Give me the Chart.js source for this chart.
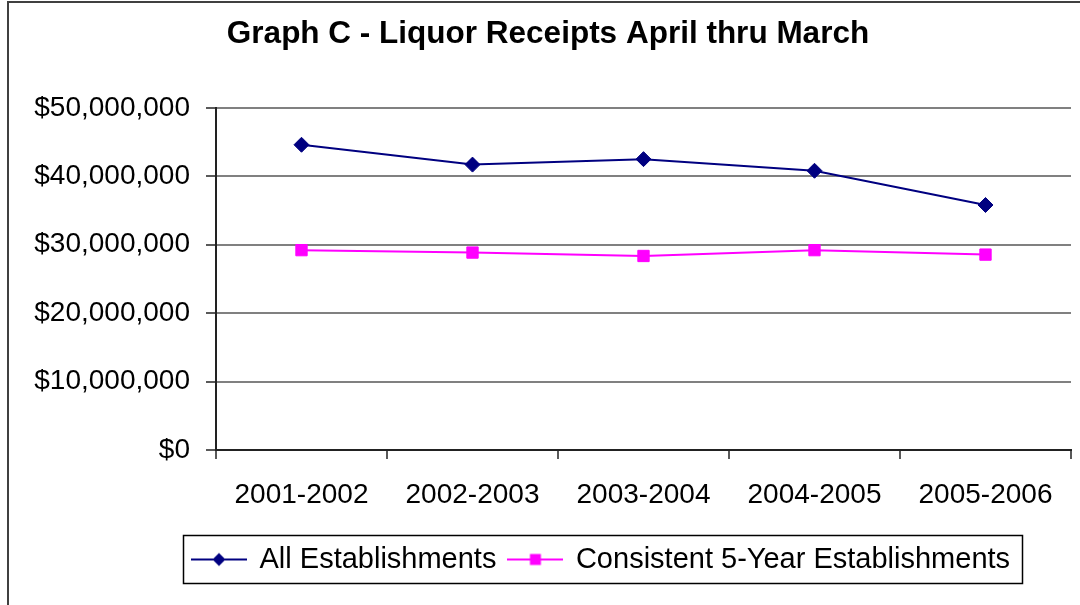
<!DOCTYPE html>
<html>
<head>
<meta charset="utf-8">
<title>Graph C - Liquor Receipts April thru March</title>
<script src="https://cdn.jsdelivr.net/npm/chart.js@4"></script>
<style>
  html, body { margin: 0; padding: 0; background: #fff; }
  #wrap { width: 1080px; height: 605px; }
</style>
</head>
<body>
<div id="wrap"><canvas id="myChart" width="1080" height="605"></canvas></div>
<script>
// data
const years = ['2001-2002', '2002-2003', '2003-2004', '2004-2005', '2005-2006'];
const allEstablishments = [44600000, 41700000, 42500000, 40800000, 35800000];
const consistentEstablishments = [29200000, 28850000, 28350000, 29200000, 28550000];
const seriesNames = ['All Establishments', 'Consistent 5-Year Establishments'];
const yTicks = [0, 10000000, 20000000, 30000000, 40000000, 50000000];

const navy = '#000080';
const pink = '#FF00FF';
const fontName = '"Liberation Sans", Arial, sans-serif';

// little line+marker picture for the legend, like excel does it
function legendIcon(color, shape) {
  const c = document.createElement('canvas');
  c.width = 56;
  c.height = 20;
  const g = c.getContext('2d');
  g.strokeStyle = color;
  g.lineWidth = 2;
  g.beginPath();
  g.moveTo(0, 10);
  g.lineTo(56, 10);
  g.stroke();
  g.fillStyle = color;
  g.beginPath();
  if (shape === 'diamond') {
    g.moveTo(28, 3.5);
    g.lineTo(34.5, 10);
    g.lineTo(28, 16.5);
    g.lineTo(21.5, 10);
  } else {
    g.rect(22.5, 4.5, 11, 11);
  }
  g.fill();
  return c;
}

const icons = [legendIcon(navy, 'diamond'), legendIcon(pink, 'square')];

// border round the whole chart and round the legend
const framePlugin = {
  id: 'frame',
  afterLayout(chart) {
    const lg = chart.legend;
    const w = lg.right - lg.left;
    lg.left = 180;
    lg.right = lg.left + w;
    // title sits a bit right of the middle in the original
    const tb = chart.titleBlock;
    tb.left += 12;
    tb.right += 12;
  },
  afterDraw(chart) {
    const ctx = chart.ctx;
    ctx.save();
    ctx.strokeStyle = '#404040';
    ctx.lineWidth = 2;
    ctx.beginPath();
    ctx.moveTo(8, 605);
    ctx.lineTo(8, 2);
    ctx.lineTo(1080, 2);
    ctx.stroke();

    const hb = chart.legend.legendHitBoxes;
    if (hb && hb.length) {
      const left = hb[0].left - 10;
      const last = hb[hb.length - 1];
      const right = last.left + last.width + 12;
      const top = hb[0].top - 10;
      const bottom = hb[0].top + hb[0].height + 9;
      ctx.strokeStyle = '#000';
      ctx.lineWidth = 1.5;
      ctx.strokeRect(Math.round(left) + 0.5, Math.round(top) + 0.5, Math.round(right - left), Math.round(bottom - top));
    }
    ctx.restore();
  }
};

const ctx = document.getElementById('myChart');

new Chart(ctx, {
  type: 'line',
  data: {
    labels: years,
    datasets: [{
      label: seriesNames[0],
      data: allEstablishments,
      borderColor: navy,
      backgroundColor: navy,
      borderWidth: 2,
      pointStyle: 'rectRot',
      pointRadius: 7.5,
      pointBorderWidth: 1,
      tension: 0
    }, {
      label: seriesNames[1],
      data: consistentEstablishments,
      borderColor: pink,
      backgroundColor: pink,
      borderWidth: 2,
      pointStyle: 'rect',
      pointRadius: 8,
      pointBorderWidth: 1,
      tension: 0
    }]
  },
  options: {
    responsive: false,
    animation: false,
    layout: {
      padding: { left: 0, right: 8, top: 0, bottom: 21 }
    },
    plugins: {
      title: {
        display: true,
        text: 'Graph C - Liquor Receipts April thru March',
        color: '#000',
        font: { family: fontName, size: 31.5, weight: 'bold', lineHeight: 1.2 },
        padding: { top: 15, bottom: 55 }
      },
      legend: {
        display: true,
        position: 'bottom',
        align: 'start',
        labels: {
          color: '#000',
          font: { family: fontName, size: 29 },
          padding: 13,
          usePointStyle: true,
          pointStyleWidth: 52,
          generateLabels(chart) {
            return chart.data.datasets.map((ds, i) => ({
              text: ds.label,
              fillStyle: ds.borderColor,
              strokeStyle: ds.borderColor,
              lineWidth: 0,
              pointStyle: icons[i],
              datasetIndex: i,
              hidden: false
            }));
          }
        }
      },
      tooltip: { enabled: false }
    },
    scales: {
      x: {
        offset: true,
        grid: {
          offset: true,
          drawOnChartArea: true,
          color: (c) => (c.index === years.length ? '#808080' : 'rgba(0,0,0,0)'),
          lineWidth: 2,
          tickColor: '#222',
          tickLength: 9,
          tickWidth: 1.5
        },
        border: { color: '#222', width: 2 },
        ticks: {
          color: '#000',
          padding: 19,
          font: { family: fontName, size: 28 },
          maxRotation: 0
        },
        afterFit(scale) {
          scale.height = 82;
        }
      },
      y: {
        min: 0,
        max: 50000000,
        grid: {
          color: '#808080',
          lineWidth: 2,
          tickColor: '#222',
          tickLength: 10,
          tickWidth: 1.5
        },
        border: { color: '#222', width: 2 },
        afterBuildTicks(scale) {
          scale.ticks = yTicks.map(v => ({ value: v }));
        },
        ticks: {
          color: '#000',
          padding: 16,
          font: { family: fontName, size: 28 },
          callback: (v) => '$' + Number(v).toLocaleString('en-US')
        },
        afterFit(scale) {
          scale.width = 216;
        }
      }
    }
  },
  plugins: [framePlugin]
});
</script>
</body>
</html>
